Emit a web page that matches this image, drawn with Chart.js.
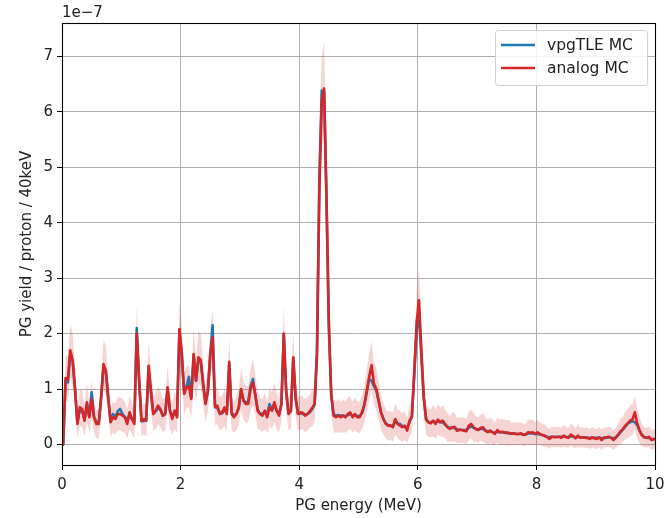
<!DOCTYPE html>
<html>
<head>
<meta charset="utf-8">
<script src="https://cdn.jsdelivr.net/npm/chart.js@4.4.0/dist/chart.umd.min.js"></script>
<style>
  html, body { margin: 0; padding: 0; background: #fff; }
  canvas { display: block; }
</style>
</head>
<body>
<canvas id="pgChart" width="665" height="518"></canvas>
<script>
// PG yield per proton per 40 keV bin, in units of 1e-7
var binWidth = 0.04; // MeV

var analogMC = [
  0.0, 1.2, 1.18, 1.7, 1.52, 1.0, 0.37, 0.67, 0.64, 0.43,
  0.76, 0.49, 0.82, 0.49, 0.37, 0.37, 0.85, 1.45, 1.33, 0.85,
  0.4, 0.49, 0.46, 0.55, 0.55, 0.52, 0.49, 0.37, 0.58, 0.46,
  0.37, 2.0, 1.2, 0.43, 0.46, 0.43, 1.42, 0.97, 0.55, 0.61,
  0.7, 0.64, 0.52, 0.55, 1.03, 0.61, 0.46, 0.61, 0.49, 2.08,
  1.65, 0.91, 1.03, 1.05, 0.82, 1.63, 1.15, 1.57, 1.52, 1.1,
  0.73, 0.97, 1.63, 1.93, 0.67, 0.7, 0.55, 0.58, 0.67, 0.55,
  1.49, 0.55, 0.49, 0.55, 0.67, 1.0, 0.79, 0.73, 0.73, 1.0,
  1.12, 0.9, 0.61, 0.55, 0.52, 0.61, 0.49, 0.67, 0.61, 0.76,
  0.61, 0.52, 0.73, 2.0, 0.97, 0.55, 0.61, 1.57, 0.85, 0.55,
  0.58, 0.57, 0.52, 0.55, 0.6, 0.66, 0.73, 1.6, 4.6, 6.2,
  6.42, 4.5, 2.2, 0.9, 0.52, 0.49, 0.52, 0.49, 0.52, 0.49,
  0.55, 0.58, 0.49, 0.55, 0.49, 0.49, 0.58, 0.73, 0.97, 1.22,
  1.43, 1.1, 1.0, 0.79, 0.58, 0.46, 0.37, 0.34, 0.34, 0.31,
  0.46, 0.37, 0.34, 0.31, 0.34, 0.25, 0.43, 0.5, 1.3, 2.2,
  2.6, 1.7, 0.85, 0.45, 0.4, 0.38, 0.43, 0.37, 0.45, 0.4,
  0.43, 0.37, 0.31, 0.28, 0.31, 0.32, 0.25, 0.26, 0.26, 0.25,
  0.24, 0.34, 0.37, 0.31, 0.28, 0.26, 0.3, 0.31, 0.25, 0.22,
  0.25, 0.22, 0.19, 0.26, 0.22, 0.23, 0.22, 0.21, 0.21, 0.19,
  0.2, 0.19, 0.19, 0.2, 0.17, 0.18, 0.22, 0.21, 0.22, 0.19,
  0.22, 0.19, 0.17, 0.16, 0.13, 0.1, 0.14, 0.13, 0.13, 0.14,
  0.12, 0.16, 0.13, 0.12, 0.18, 0.15, 0.11, 0.16, 0.12, 0.13,
  0.12, 0.12, 0.1, 0.13, 0.11, 0.1, 0.13, 0.08, 0.12, 0.13,
  0.14, 0.12, 0.08, 0.12, 0.18, 0.24, 0.28, 0.34, 0.38, 0.43,
  0.45, 0.58, 0.38, 0.25, 0.17, 0.13, 0.12, 0.14, 0.08, 0.1,
  0.08
];

var vpgTLE = [
  0.0, 1.15, 1.12, 1.65, 1.5, 1.0, 0.4, 0.62, 0.6, 0.45,
  0.72, 0.5, 0.94, 0.5, 0.4, 0.4, 0.85, 1.4, 1.3, 0.82,
  0.42, 0.55, 0.5, 0.6, 0.64, 0.55, 0.5, 0.42, 0.56, 0.45,
  0.42, 2.1, 1.15, 0.42, 0.42, 0.45, 1.35, 0.95, 0.55, 0.6,
  0.66, 0.62, 0.52, 0.55, 0.98, 0.62, 0.5, 0.58, 0.52, 2.05,
  1.6, 0.95, 1.05, 1.22, 0.85, 1.6, 1.15, 1.52, 1.5, 1.08,
  0.75, 0.95, 1.6, 2.15, 0.7, 0.65, 0.58, 0.56, 0.62, 0.58,
  1.45, 0.58, 0.52, 0.55, 0.65, 0.98, 0.8, 0.75, 0.78, 1.05,
  1.18, 0.88, 0.62, 0.56, 0.55, 0.58, 0.55, 0.73, 0.62, 0.72,
  0.6, 0.55, 0.72, 1.98, 0.95, 0.56, 0.6, 1.55, 0.82, 0.56,
  0.56, 0.55, 0.54, 0.55, 0.58, 0.64, 0.72, 1.7, 4.8, 6.38,
  6.36, 4.4, 2.1, 0.88, 0.54, 0.52, 0.53, 0.52, 0.52, 0.51,
  0.53, 0.55, 0.52, 0.53, 0.51, 0.52, 0.56, 0.72, 0.95, 1.18,
  1.15, 1.05, 0.98, 0.78, 0.58, 0.46, 0.38, 0.35, 0.34, 0.33,
  0.42, 0.38, 0.37, 0.33, 0.32, 0.3, 0.4, 0.5, 1.25, 2.05,
  2.36, 1.6, 0.85, 0.46, 0.4, 0.4, 0.42, 0.4, 0.42, 0.4,
  0.4, 0.36, 0.32, 0.3, 0.3, 0.3, 0.27, 0.27, 0.26, 0.26,
  0.26, 0.3, 0.33, 0.3, 0.28, 0.27, 0.28, 0.28, 0.25, 0.24,
  0.24, 0.22, 0.21, 0.23, 0.22, 0.22, 0.21, 0.21, 0.2, 0.2,
  0.2, 0.19, 0.19, 0.19, 0.18, 0.18, 0.2, 0.2, 0.2, 0.19,
  0.19, 0.18, 0.17, 0.15, 0.14, 0.13, 0.14, 0.14, 0.14, 0.14,
  0.14, 0.14, 0.14, 0.13, 0.15, 0.14, 0.13, 0.14, 0.13, 0.13,
  0.13, 0.12, 0.12, 0.12, 0.12, 0.12, 0.12, 0.11, 0.12, 0.12,
  0.13, 0.12, 0.11, 0.13, 0.17, 0.22, 0.27, 0.32, 0.38, 0.4,
  0.42, 0.4, 0.35, 0.25, 0.17, 0.13, 0.12, 0.12, 0.1, 0.1,
  0.09
];

// half width of the shaded analog MC uncertainty band
var analogErr = [
  0.05, 0.41, 0.41, 0.47, 0.47, 0.38, 0.26, 0.33, 0.33, 0.28,
  0.35, 0.28, 0.35, 0.28, 0.26, 0.26, 0.35, 0.44, 0.44, 0.35,
  0.26, 0.28, 0.28, 0.3, 0.3, 0.3, 0.28, 0.26, 0.3, 0.28,
  0.26, 0.5, 0.41, 0.28, 0.28, 0.28, 0.44, 0.38, 0.3, 0.33,
  0.33, 0.33, 0.3, 0.3, 0.38, 0.33, 0.28, 0.33, 0.28, 0.5,
  0.47, 0.38, 0.38, 0.38, 0.35, 0.47, 0.41, 0.47, 0.47, 0.38,
  0.33, 0.38, 0.47, 0.5, 0.33, 0.33, 0.3, 0.3, 0.33, 0.3,
  0.44, 0.3, 0.28, 0.3, 0.33, 0.38, 0.35, 0.33, 0.33, 0.38,
  0.41, 0.35, 0.33, 0.3, 0.3, 0.33, 0.28, 0.33, 0.33, 0.35,
  0.33, 0.3, 0.33, 0.5, 0.38, 0.3, 0.33, 0.47, 0.35, 0.3,
  0.3, 0.3, 0.3, 0.3, 0.3, 0.33, 0.33, 0.45, 0.7, 0.82,
  0.84, 0.72, 0.5, 0.35, 0.3, 0.28, 0.3, 0.28, 0.3, 0.28,
  0.3, 0.3, 0.28, 0.3, 0.28, 0.28, 0.3, 0.33, 0.38, 0.41,
  0.44, 0.38, 0.38, 0.35, 0.3, 0.28, 0.26, 0.26, 0.26, 0.26,
  0.28, 0.26, 0.26, 0.26, 0.26, 0.23, 0.28, 0.28, 0.42, 0.5,
  0.56, 0.47, 0.35, 0.28, 0.26, 0.26, 0.28, 0.26, 0.28, 0.26,
  0.28, 0.26, 0.26, 0.23, 0.26, 0.26, 0.23, 0.23, 0.23, 0.23,
  0.23, 0.26, 0.26, 0.26, 0.23, 0.23, 0.23, 0.26, 0.23, 0.23,
  0.23, 0.23, 0.2, 0.23, 0.23, 0.23, 0.23, 0.23, 0.23, 0.2,
  0.2, 0.2, 0.2, 0.2, 0.2, 0.2, 0.23, 0.23, 0.23, 0.2,
  0.23, 0.2, 0.2, 0.2, 0.18, 0.18, 0.18, 0.18, 0.18, 0.18,
  0.18, 0.2, 0.18, 0.18, 0.2, 0.2, 0.18, 0.2, 0.18, 0.18,
  0.18, 0.18, 0.18, 0.18, 0.18, 0.18, 0.18, 0.18, 0.18, 0.18,
  0.18, 0.18, 0.18, 0.18, 0.2, 0.23, 0.23, 0.26, 0.26, 0.28,
  0.28, 0.3, 0.26, 0.23, 0.2, 0.18, 0.18, 0.18, 0.18, 0.18,
  0.18
];

var xTicks = [0, 2, 4, 6, 8, 10];
var yTicks = [0, 1, 2, 3, 4, 5, 6, 7];
var seriesLabels = ["vpgTLE MC", "analog MC"];
var yExponent = "1e\u22127";

// bin centres
var energy = analogMC.map(function(_, i) { return Number(((i + 0.5) * binWidth).toFixed(3)); });

function toPoints(values) {
    return values.map(function(v, i) { return { x: energy[i], y: v }; });
}

var bandLow = toPoints(analogMC.map(function(v, i) { return v - analogErr[i]; }));
var bandHigh = toPoints(analogMC.map(function(v, i) { return v + analogErr[i]; }));

var FONT = "'DejaVu Sans', 'Liberation Sans', sans-serif";
var BLUE = "#1f77b4";
var RED = "#d62728";

// frame, offset text and matplotlib-like legend
var framePlugin = {
    id: "frame",
    afterDraw: function(chart) {
        var ctx = chart.ctx;
        var a = chart.chartArea;
        ctx.save();

        ctx.strokeStyle = "#000";
        ctx.lineWidth = 1.1;
        ctx.strokeRect(Math.round(a.left) + 0.5, Math.round(a.top) + 0.5,
                       Math.round(a.right - a.left), Math.round(a.bottom - a.top));

        ctx.fillStyle = "#222";
        ctx.font = "15px " + FONT;
        ctx.textAlign = "left";
        ctx.textBaseline = "alphabetic";
        ctx.fillText(yExponent, a.left, a.top - 6);

        var bx = 495, by = 30, bw = 152, bh = 55;
        ctx.beginPath();
        ctx.roundRect(bx + 0.5, by + 0.5, bw, bh, 3);
        ctx.fillStyle = "rgba(255,255,255,0.85)";
        ctx.fill();
        ctx.strokeStyle = "#d0d0d0";
        ctx.lineWidth = 1;
        ctx.stroke();

        var colors = [BLUE, RED];
        ctx.font = "15.5px " + FONT;
        for (var i = 0; i < seriesLabels.length; i++) {
            var ly = by + 15 + i * 23;
            ctx.strokeStyle = colors[i];
            ctx.lineWidth = 2.6;
            ctx.beginPath();
            ctx.moveTo(bx + 6, ly);
            ctx.lineTo(bx + 40, ly);
            ctx.stroke();
            ctx.fillStyle = "#222";
            ctx.textBaseline = "middle";
            ctx.fillText(seriesLabels[i], bx + 52, ly + 1);
        }
        ctx.restore();
    }
};

var chart = new Chart(document.getElementById("pgChart"), {
    type: "line",
    data: {
        datasets: [
            {
                label: seriesLabels[0],
                data: toPoints(vpgTLE),
                borderColor: BLUE,
                borderWidth: 2.6,
                fill: false,
                order: 1
            },
            {
                label: seriesLabels[1],
                data: toPoints(analogMC),
                borderColor: RED,
                borderWidth: 2.6,
                fill: false,
                order: 0
            },
            {
                label: "band low",
                data: bandLow,
                borderWidth: 0,
                borderColor: "rgba(0,0,0,0)",
                fill: false,
                order: 3
            },
            {
                label: "band high",
                data: bandHigh,
                borderWidth: 0,
                borderColor: "rgba(0,0,0,0)",
                backgroundColor: "rgba(214,39,40,0.2)",
                fill: "-1",
                order: 2
            }
        ]
    },
    options: {
        responsive: false,
        animation: false,
        elements: {
            point: { radius: 0, hoverRadius: 0 },
            line: { tension: 0, borderJoinStyle: "round", borderCapStyle: "round" }
        },
        layout: { padding: { top: 23, right: 10, left: 16, bottom: 0 } },
        plugins: {
            legend: { display: false },
            tooltip: { enabled: false },
            filler: { drawTime: "beforeDatasetsDraw" }
        },
        scales: {
            x: {
                type: "linear",
                min: 0,
                max: 10,
                afterBuildTicks: function(s) { s.ticks = xTicks.map(function(v) { return { value: v }; }); },
                afterFit: function(s) {
                    s.height = 53;
                    s.paddingLeft = 0;
                    s.paddingRight = 0;
                },
                ticks: {
                    color: "#222",
                    font: { family: FONT, size: 15 },
                    padding: 6,
                    maxRotation: 0
                },
                grid: { color: "#b0b0b0", lineWidth: 1, tickLength: 5, tickColor: "#000" },
                border: { display: false },
                title: {
                    display: true,
                    text: "PG energy (MeV)",
                    color: "#222",
                    font: { family: FONT, size: 15 },
                    padding: { top: 0, bottom: 3 }
                }
            },
            y: {
                type: "linear",
                min: -0.37,
                max: 7.6,
                afterBuildTicks: function(s) { s.ticks = yTicks.map(function(v) { return { value: v }; }); },
                afterFit: function(s) {
                    s.width = 46;
                    s.paddingTop = 0;
                    s.paddingBottom = 0;
                },
                ticks: {
                    color: "#222",
                    font: { family: FONT, size: 15 },
                    padding: 4
                },
                grid: { color: "#b0b0b0", lineWidth: 1, tickLength: 5, tickColor: "#000" },
                border: { display: false },
                title: {
                    display: true,
                    text: "PG yield / proton / 40keV",
                    color: "#222",
                    font: { family: FONT, size: 15 },
                    padding: { top: 2, bottom: 0 }
                }
            }
        }
    },
    plugins: [framePlugin]
});
</script>
</body>
</html>
